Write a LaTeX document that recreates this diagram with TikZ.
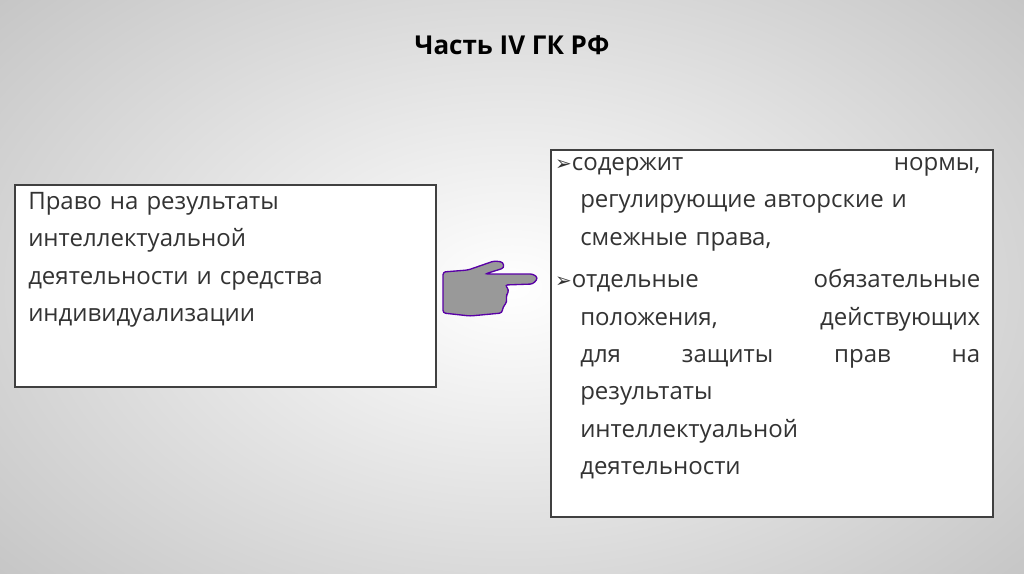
\documentclass[tikz,border=0pt]{standalone}
\usepackage{fontspec}
\setmainfont{Open Sans}
\newfontfamily\symf{DejaVu Sans}
\newcommand{\bul}{\hspace*{-1.05em}{\symf\fontsize{15}{15}\selectfont ➢}}
\begin{document}
\begin{tikzpicture}[x=0.75pt,y=-0.75pt,
  box/.style={draw=black!75,line width=1.2pt,fill=white},
  txt/.style={anchor=north west,inner sep=0pt,font=\fontsize{18}{28}\selectfont,text=black!80}]
\useasboundingbox (0,0) rectangle (1024,574);
\begin{scope}
\clip (0,0) rectangle (1024,574);
\shade[inner color=white,outer color=black!25] (-250,-200) rectangle (1274,774);
\end{scope}
\node[font=\bfseries\fontsize{19.5}{22}\selectfont] (title) at (512,45) {Часть IV ГК РФ};
\draw[box] (15,185) rectangle (436,387);
\node[txt,text width=300pt,align=left] (left) at (28,192) {Право на результаты\\интеллектуальной\\деятельности и средства\\индивидуализации};
\draw[box] (551,150) rectangle (993,517);
\node[txt,text width=300pt,align=left] (right) at (580,157) {%
\bul содержит\hfill нормы,\\
регулирующие авторские и\\
смежные права,\\[4pt]
\bul отдельные\hfill обязательные\\
положения,\hfill действующих\\
для\hfill защиты\hfill прав\hfill на\\
результаты\\интеллектуальной\\деятельности};
\draw[fill=black!40,draw=violet!70!blue,line width=1pt,rounded corners=2pt]
 (443,272) -- (468,270) -- (494,261) -- (503,262) -- (504,268) -- (485,274)
 -- (533,274) -- (538,278) -- (533,284) -- (505,285) -- (509,290) -- (506,297)
 -- (507,302) -- (503,307) -- (502,313) -- (470,316) -- (443,313) -- cycle;
\end{tikzpicture}
\end{document}
